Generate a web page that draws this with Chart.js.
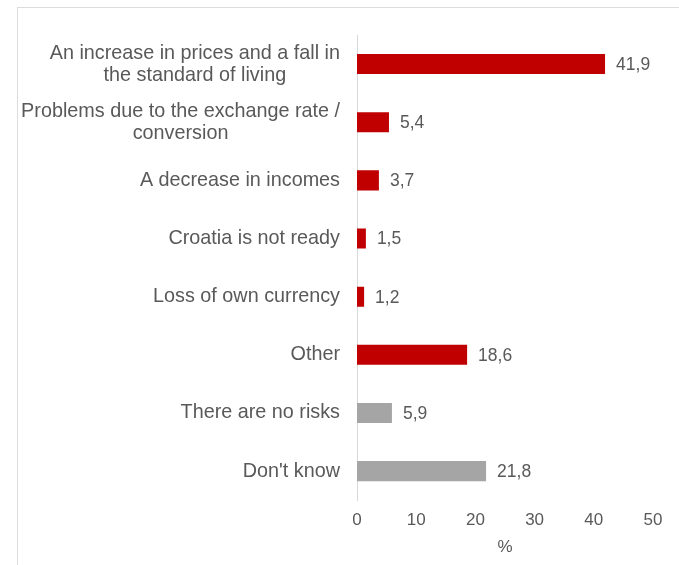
<!DOCTYPE html>
<html>
<head>
<meta charset="utf-8">
<script src="https://cdn.jsdelivr.net/npm/chart.js@4/dist/chart.umd.min.js"></script>
<style>
  html, body { margin: 0; padding: 0; background: #fff; }
  .frame { position: absolute; top: 7px; left: 17px; right: 0; bottom: 0;
           border-top: 1px solid #dcdcdc; border-left: 1px solid #dcdcdc; }
  .wrap { position: absolute; top: 0; left: 0; width: 679px; height: 565px; }
</style>
</head>
<body>
<div class="frame"></div>
<div class="wrap"><canvas id="risks" width="679" height="565"></canvas></div>
<script>
// answers, one entry per bar (line breaks as shown on the axis)
const categories = [
  ["An increase in prices and a fall in", "the standard of living"],
  ["Problems due to the exchange rate /", "conversion"],
  ["A decrease in incomes"],
  ["Croatia is not ready"],
  ["Loss of own currency"],
  ["Other"],
  ["There are no risks"],
  ["Don't know"]
];
const shares = [41.9, 5.4, 3.7, 1.5, 1.2, 18.6, 5.9, 21.8];
const barColors = ["#C00000", "#C00000", "#C00000", "#C00000", "#C00000", "#C00000", "#A5A5A5", "#A5A5A5"];
const xTicks = [0, 10, 20, 30, 40, 50];
const axisTitle = "%";

const textColor = "#595959";
const fontFamily = "'Liberation Sans', Arial, sans-serif";
const catFontSize = 19.8;
const valueFontSize = 17.5;
const tickFontSize = 17;

// comma decimals for the value labels
const fmt = function(v) {
  return v.toFixed(1).replace(".", ",");
};

// category labels: right aligned block, lines centred within it
const categoryLabels = {
  id: "categoryLabels",
  afterDraw(chart) {
    const ctx = chart.ctx;
    const yScale = chart.scales.y;
    const right = chart.chartArea.left - 17;
    const lineH = 22;
    ctx.save();
    ctx.font = catFontSize + "px " + fontFamily;
    ctx.fillStyle = textColor;
    ctx.textAlign = "center";
    ctx.textBaseline = "middle";
    categories.forEach(function(lines, i) {
      const yc = yScale.getPixelForValue(i);
      let widest = 0;
      for (const l of lines) widest = Math.max(widest, ctx.measureText(l).width);
      const cx = right - widest / 2;
      const y0 = yc - (lines.length - 1) * lineH / 2;
      lines.forEach(function(l, j) {
        ctx.fillText(l, cx, y0 + j * lineH);
      });
    });
    ctx.restore();
  }
};

// value labels right of each bar
const valueLabels = {
  id: "valueLabels",
  afterDatasetsDraw(chart) {
    const ctx = chart.ctx;
    const meta = chart.getDatasetMeta(0);
    ctx.save();
    ctx.font = valueFontSize + "px " + fontFamily;
    ctx.fillStyle = textColor;
    ctx.textAlign = "left";
    ctx.textBaseline = "middle";
    meta.data.forEach(function(bar, i) {
      ctx.fillText(fmt(shares[i]), bar.x + 11, bar.y + 1);
    });
    ctx.restore();
  }
};

Chart.defaults.font.family = fontFamily;
Chart.defaults.font.size = tickFontSize;
Chart.defaults.color = textColor;

new Chart(document.getElementById("risks"), {
  type: "bar",
  data: {
    labels: categories.map(function(c) { return c.join(" "); }),
    datasets: [{
      data: shares,
      backgroundColor: barColors,
      borderWidth: 0,
      barPercentage: 0.69,
      categoryPercentage: 0.5
    }]
  },
  options: {
    indexAxis: "y",
    responsive: false,
    animation: false,
    layout: { padding: { left: 357, right: 26, top: 35, bottom: 7 } },
    plugins: {
      legend: { display: false },
      tooltip: { enabled: false }
    },
    scales: {
      x: {
        min: 0,
        max: 50,
        grid: { display: false, drawTicks: false },
        border: { display: false },
        afterBuildTicks(axis) {
          axis.ticks = xTicks.map(function(v) { return { value: v }; });
        },
        ticks: { padding: 10, color: textColor },
        title: { display: true, text: axisTitle, color: textColor, padding: { top: -3, bottom: 0 } }
      },
      y: {
        grid: { display: false, drawTicks: false },
        border: { display: true, color: "#d9d9d9", width: 1 },
        ticks: { display: false }
      }
    }
  },
  plugins: [categoryLabels, valueLabels]
});
</script>
</body>
</html>
